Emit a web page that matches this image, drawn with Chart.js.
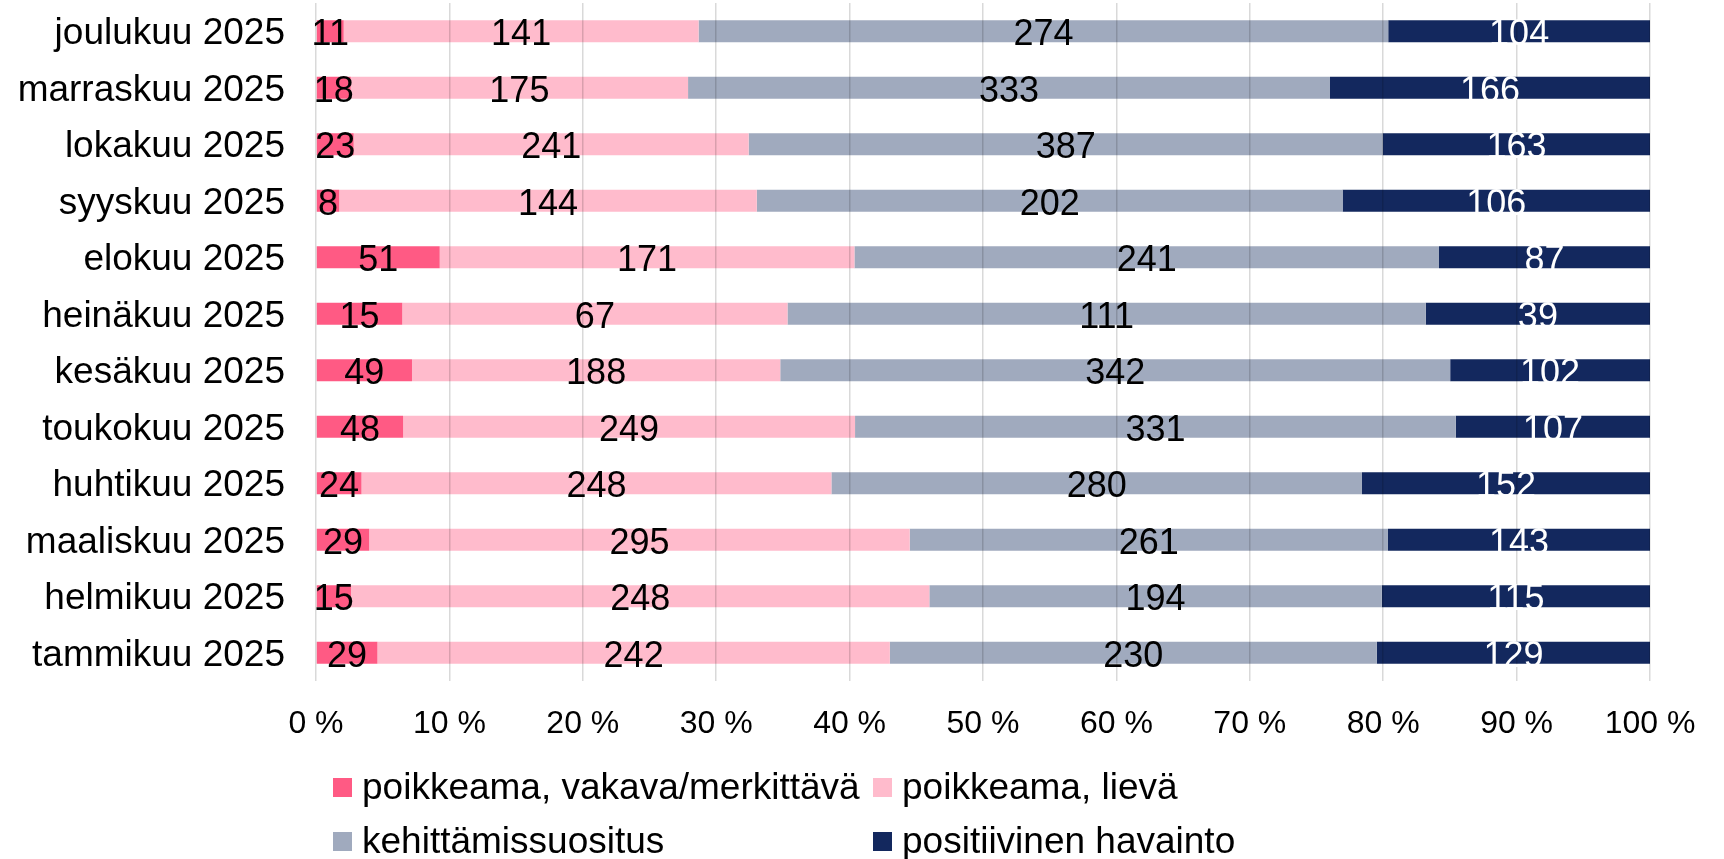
<!DOCTYPE html>
<html><head><meta charset="utf-8">
<script src="https://cdn.jsdelivr.net/npm/chart.js@4.4.1/dist/chart.umd.min.js"></script>
<style>
html,body{margin:0;padding:0;background:#fff;}
#wrap{position:relative;width:1724px;height:859px;overflow:hidden;background:#fff;}
#c{position:absolute;left:0;top:0;}
.leg{position:absolute;height:50px;display:flex;align-items:center;font-family:"Liberation Sans",Arial,sans-serif;font-size:37px;color:#000;white-space:nowrap;}
.leg span.box{display:inline-block;width:19px;height:19px;margin-right:10px;flex:none;}
</style>
</head><body>
<div id="wrap"><canvas id="c" width="1724" height="859"></canvas></div>
<script>
// Categories, top to bottom as in the chart
const categories = ["joulukuu 2025","marraskuu 2025","lokakuu 2025","syyskuu 2025","elokuu 2025","heinäkuu 2025","kesäkuu 2025","toukokuu 2025","huhtikuu 2025","maaliskuu 2025","helmikuu 2025","tammikuu 2025"];
const seriesNames = ["poikkeama, vakava/merkittävä","poikkeama, lievä","kehittämissuositus","positiivinen havainto"];
const vakava    = [11, 18, 23, 8, 51, 15, 49, 48, 24, 29, 15, 29];
const lieva     = [141,175,241,144,171,67,188,249,248,295,248,242];
const kehitys   = [274,333,387,202,241,111,342,331,280,261,194,230];
const positiivinen = [104,166,163,106,87,39,102,107,152,143,115,129];
const xTickLabels = ["0 %","10 %","20 %","30 %","40 %","50 %","60 %","70 %","80 %","90 %","100 %"];

const rawSeries = [vakava, lieva, kehitys, positiivinen];
const colors = ["#FF5A84","#FFBBCC","#A0AABE","#13285E"];
const labelColors = ["#000000","#000000","#000000","#FFFFFF"];
const totals = categories.map((_, j) => rawSeries.reduce((s, arr) => s + arr[j], 0));

const FONT = '"Liberation Sans", Arial, sans-serif';

const labelPlugin = {
  id: 'barLabels',
  afterDraw(chart) {
    const ctx = chart.ctx;
    ctx.save();
    ctx.font = '36px ' + FONT;
    ctx.textAlign = 'center';
    ctx.textBaseline = 'middle';
    chart.data.datasets.forEach((ds, i) => {
      const meta = chart.getDatasetMeta(i);
      meta.data.forEach((el, j) => {
        const p = el.getProps(['x', 'y', 'base'], true);
        ctx.fillStyle = labelColors[i];
        ctx.fillText(String(rawSeries[i][j]), (p.x + p.base) / 2, p.y + 4);
      });
    });
    ctx.restore();
  }
};

new Chart(document.getElementById('c'), {
  type: 'bar',
  data: {
    labels: categories,
    datasets: rawSeries.map((arr, i) => ({
      label: seriesNames[i],
      data: arr.map((v, j) => v / totals[j] * 100),
      backgroundColor: colors[i],
      borderWidth: 0,
      barPercentage: 0.39,
      categoryPercentage: 1
    }))
  },
  options: {
    indexAxis: 'y',
    responsive: false,
    animation: false,
    layout: { padding: { top: 3, right: 74, left: 0, bottom: 0 } },
    plugins: { legend: { display: false }, tooltip: { enabled: false } },
    scales: {
      x: {
        stacked: true, min: 0, max: 100,
        ticks: { stepSize: 10, color: '#000', padding: 24, font: { family: FONT, size: 32 },
          callback: (v, i) => xTickLabels[i] },
        grid: { color: 'rgba(0,0,0,0.15)', lineWidth: 1.5, drawTicks: false, z: 1 },
        border: { display: false },
        afterFit: s => { s.height = 178; }
      },
      y: {
        stacked: true,
        ticks: { color: '#000', padding: 31, labelOffset: 3, font: { family: FONT, size: 37 } },
        grid: { display: false, drawTicks: false },
        border: { display: false },
        afterFit: s => { s.width = 316; s.paddingTop = 0; s.paddingBottom = 0; }
      }
    }
  },
  plugins: [labelPlugin]
});

// Legend (two columns, as in the reference)
const legPos = [[333, 762], [873, 762], [333, 816], [873, 816]];
seriesNames.forEach((name, i) => {
  const d = document.createElement('div');
  d.className = 'leg';
  d.style.left = legPos[i][0] + 'px';
  d.style.top = legPos[i][1] + 'px';
  const b = document.createElement('span');
  b.className = 'box';
  b.style.background = colors[i];
  d.appendChild(b);
  d.appendChild(document.createTextNode(name));
  document.getElementById('wrap').appendChild(d);
});
</script>
</body></html>
